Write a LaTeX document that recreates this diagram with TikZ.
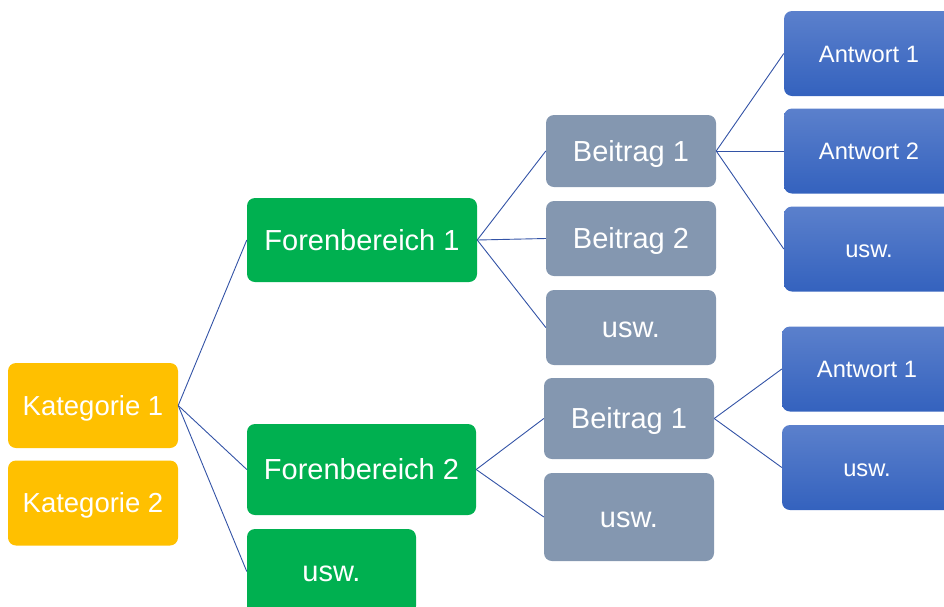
\documentclass[tikz,border=0pt]{standalone}
\usepackage{fontspec}
\setmainfont{Liberation Sans}
\definecolor{ygold}{HTML}{FFC000}
\definecolor{ggreen}{HTML}{00B050}
\definecolor{ggray}{HTML}{8497B0}
\definecolor{btop}{HTML}{5B80CC}
\definecolor{bbot}{HTML}{3462BE}
\definecolor{conncol}{HTML}{3353A6}
\begin{document}
\begin{tikzpicture}[x=1pt,y=-1pt,
  box/.style={rectangle, rounded corners=8pt, text=white, inner sep=0pt},
  bigtext/.style={font=\fontsize{29}{32}\selectfont, text height=20.8pt, text depth=0pt},
  ybox/.style={box, fill=ygold, minimum width=170pt, minimum height=85pt, font=\fontsize{27.5}{30}\selectfont, text height=19.7pt, text depth=0pt},
  gbox/.style={box, fill=ggreen, bigtext},
  pbox/.style={box, fill=ggray, minimum width=170pt, bigtext},
  bbox/.style={box, top color=btop, bottom color=bbot, minimum width=170pt, minimum height=85pt, font=\fontsize{23.7}{26}\selectfont, text height=17pt, text depth=0pt},
  conn/.style={draw=conncol, line width=0.9pt}]
\useasboundingbox (0,0) rectangle (944,606);
\begin{scope}
\clip (0,0) rectangle (944,606);
% categories
\node[ybox] (k1) at (93,405.5) {Kategorie 1};
\node[ybox] (k2) at (93,503) {Kategorie 2};
% forums
\node[gbox, minimum width=230pt, minimum height=84pt] (f1) at (362,240) {Forenbereich 1};
\node[gbox, minimum width=229pt, minimum height=91pt] (f2) at (361.5,469.5) {Forenbereich 2};
\node[gbox, minimum width=169pt, minimum height=85pt] (f3) at (331.5,571.5) {usw.};
% posts
\node[pbox, minimum height=72pt] (b1) at (631,151) {Beitrag 1};
\node[pbox, minimum height=75pt] (b2) at (631,238.5) {Beitrag 2};
\node[pbox, minimum height=75pt] (b3) at (631,327.5) {usw.};
\node[pbox, minimum height=81pt] (b4) at (629,418.5) {Beitrag 1};
\node[pbox, minimum height=88pt] (b5) at (629,517) {usw.};
% answers
\node[bbox] (a1) at (869,53.5) {Antwort 1};
\node[bbox] (a2) at (869,151) {Antwort 2};
\node[bbox] (a3) at (869,249) {usw.};
\node[bbox] (a4) at (867,369) {Antwort 1};
\node[bbox] (a5) at (867,467.5) {usw.};
% connectors
\draw[conn] (k1.east) -- (f1.west);
\draw[conn] (k1.east) -- (f2.west);
\draw[conn] (k1.east) -- (f3.west);
\draw[conn] (f1.east) -- (b1.west);
\draw[conn] (f1.east) -- (b2.west);
\draw[conn] (f1.east) -- (b3.west);
\draw[conn] (f2.east) -- (b4.west);
\draw[conn] (f2.east) -- (b5.west);
\draw[conn] (b1.east) -- (a1.west);
\draw[conn] (b1.east) -- (a2.west);
\draw[conn] (b1.east) -- (a3.west);
\draw[conn] (b4.east) -- (a4.west);
\draw[conn] (b4.east) -- (a5.west);
\end{scope}
\end{tikzpicture}
\end{document}
